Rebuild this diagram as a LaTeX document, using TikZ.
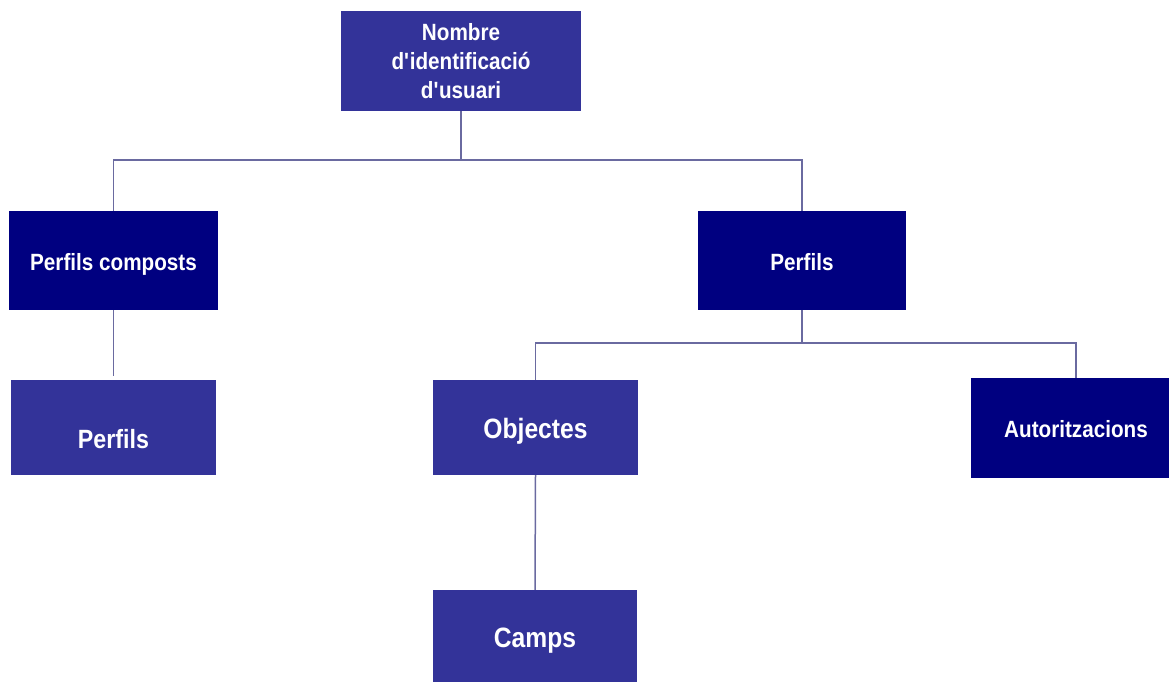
\documentclass[tikz,border=0pt]{standalone}
\usepackage{fontspec}
\setmainfont{Liberation Sans}[FakeStretch=0.88]
\definecolor{navy}{HTML}{000080}
\definecolor{midblue}{HTML}{333399}
\definecolor{linec}{HTML}{6A6AA0}
\newcommand{\ap}{\textquotesingle}
\begin{document}
\begin{tikzpicture}[x=1pt,y=-1pt,
  box/.style={rectangle, inner sep=0pt, text=white, font=\bfseries\fontsize{23.5}{29}\selectfont, align=center, text height=20pt, text depth=0pt},
  dark/.style={box, fill=navy},
  mid/.style={box, fill=midblue},
  conn/.style={draw=linec, line width=1.5pt}]
\useasboundingbox (0,0) rectangle (1169,682);
\node[mid, minimum width=240, minimum height=100, text height=, text depth=] (top) at (461,61) {Nombre\\d\ap identificació\\d\ap usuari};
\node[dark, minimum width=209, minimum height=99] (pc) at (113.5,260.5) {Perfils composts};
\node[dark, minimum width=208, minimum height=99] (pr) at (802,260.5) {Perfils};
\node[mid, minimum width=205, minimum height=95,
  label={[text=white, font=\bfseries\fontsize{26.4}{30}\selectfont, yshift=-10.5, text height=20pt, text depth=0pt]center:Perfils}] (pl) at (113.5,427.5) {};
\node[mid, minimum width=205, minimum height=95, font=\bfseries\fontsize{28}{32}\selectfont, text height=21pt] (obj) at (535.5,427.5) {Objectes};
\node[dark, minimum width=210, minimum height=100, text height=18pt] (aut) at (1076,428) {Autoritzacions};
\node[mid, minimum width=204, minimum height=94, font=\bfseries\fontsize{28}{32}\selectfont] (camps) at (535,637) {Camps};
\draw[conn] (top.south) -- ++(0,49) -| (pc.north);
\draw[conn] (top.south) -- ++(0,49) -| (pr.north);
\draw[conn] (pc.south) -- ([yshift=4]pl.north);
\draw[conn] (pr.south) -- ++(0,33) -| (obj.north);
\draw[conn] (pr.south) -- ++(0,33) -| (aut.north);
\draw[conn] (obj.south) -- (camps.north);
\end{tikzpicture}
\end{document}
